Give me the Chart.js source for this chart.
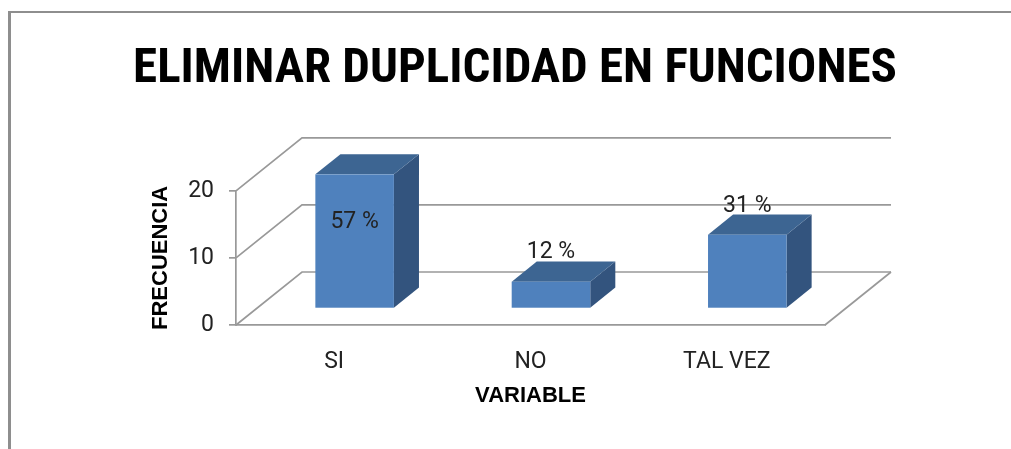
<!DOCTYPE html>
<html>
<head>
<meta charset="utf-8">
<script src="https://cdn.jsdelivr.net/npm/chart.js@4/dist/chart.umd.min.js"></script>
<style>
    body { margin: 0; background: #fff; overflow: hidden; }
    .marco {
        position: absolute; left: 8px; top: 11px; right: 0; bottom: 0;
        border-top: 2px solid #8e8e8e; border-left: 3px solid #8e8e8e;
    }
    #grafico { position: absolute; left: 0; top: 0; }
</style>
</head>
<body>
<div class="marco"></div>
<canvas id="grafico" width="1011" height="449"></canvas>
<script>
// datos del grafico
const categorias = ['SI', 'NO', 'TAL VEZ'];
const frecuencias = [20, 4, 11];
const porcentajes = ['57 %', '12 %', '31 %'];
const ejeY = { min: 0, max: 20, paso: 10 };

const fuenteTitulo = "'Roboto Condensed', Roboto, sans-serif";
const fuente = "Roboto, 'Liberation Sans', sans-serif";
const fuenteNegrita = "'Liberation Sans', Arial, sans-serif";

// profundidad del efecto 3D (pared del fondo)
const PROF_X = 66;
const PROF_Y = -53;
const FRENTE = 0.31;   // donde empieza la barra
const FONDO = 0.69;    // donde termina la barra

const colorLinea = '#999999';

// pared del fondo y piso
const fondo3D = {
    id: 'fondo3D',
    beforeDatasetsDraw(chart) {
        const ctx = chart.ctx;
        const area = chart.chartArea;
        const y = chart.scales.y;
        ctx.save();
        ctx.strokeStyle = colorLinea;
        ctx.lineWidth = 1.7;
        y.ticks.forEach(t => {
            const py = y.getPixelForValue(t.value);
            ctx.beginPath();
            ctx.moveTo(area.left, py);
            ctx.lineTo(area.left + PROF_X, py + PROF_Y);
            ctx.lineTo(area.right + PROF_X, py + PROF_Y);
            ctx.stroke();
        });
        // borde derecho del piso
        ctx.beginPath();
        ctx.moveTo(area.right, area.bottom);
        ctx.lineTo(area.right + PROF_X, area.bottom + PROF_Y);
        ctx.stroke();
        ctx.restore();
    }
};

// barras en 3D y etiquetas de porcentaje
const barras3D = {
    id: 'barras3D',
    afterDatasetsDraw(chart) {
        const ctx = chart.ctx;
        const area = chart.chartArea;
        const meta = chart.getDatasetMeta(0);
        const fx = FRENTE * PROF_X, fy = FRENTE * PROF_Y;
        const px = (FONDO - FRENTE) * PROF_X, py = (FONDO - FRENTE) * PROF_Y;
        ctx.save();
        meta.data.forEach((barra, i) => {
            const p = barra.getProps(['x', 'y', 'base', 'width'], true);
            const x0 = p.x - p.width / 2 + fx;
            const x1 = x0 + p.width;
            const yt = p.y + fy;
            const yb = p.base + fy;

            // cara lateral
            ctx.fillStyle = '#33547e';
            ctx.beginPath();
            ctx.moveTo(x1, yt);
            ctx.lineTo(x1 + px, yt + py);
            ctx.lineTo(x1 + px, yb + py);
            ctx.lineTo(x1, yb);
            ctx.closePath();
            ctx.fill();

            // cara superior
            ctx.fillStyle = '#3d6592';
            ctx.beginPath();
            ctx.moveTo(x0, yt);
            ctx.lineTo(x1, yt);
            ctx.lineTo(x1 + px, yt + py);
            ctx.lineTo(x0 + px, yt + py);
            ctx.closePath();
            ctx.fill();

            // cara frontal
            ctx.fillStyle = '#4f81bd';
            ctx.fillRect(x0, yt, p.width, yb - yt);

            // etiqueta
            let ly = yt - 29;
            if (ly < area.top) ly = yt + 48;
            ctx.fillStyle = '#222';
            ctx.font = '23px ' + fuente;
            ctx.textAlign = 'center';
            ctx.textBaseline = 'middle';
            ctx.fillText(porcentajes[i], (x0 + x1) / 2, ly);
        });
        ctx.restore();
    }
};

const grafico = new Chart(document.getElementById('grafico'), {
    type: 'bar',
    data: {
        labels: categorias,
        datasets: [{
            label: 'Frecuencia',
            data: frecuencias,
            backgroundColor: 'rgba(0,0,0,0)',
            borderWidth: 0,
            barPercentage: 0.4,
            categoryPercentage: 1
        }]
    },
    options: {
        responsive: false,
        animation: false,
        devicePixelRatio: 1,
        layout: { padding: { left: 19, right: 0, top: 0, bottom: 0 } },
        plugins: {
            legend: { display: false },
            tooltip: { enabled: false },
            title: {
                display: true,
                text: 'ELIMINAR DUPLICIDAD EN FUNCIONES',
                color: '#000',
                font: { family: fuenteTitulo, size: 49, weight: 'bold' },
                padding: { top: 40, bottom: 92 }
            }
        },
        scales: {
            x: {
                grid: { display: false, drawTicks: false },
                border: { display: true, color: colorLinea, width: 1.7 },
                ticks: { color: '#222', font: { family: fuente, size: 23 }, padding: 23 },
                title: {
                    display: true,
                    text: 'VARIABLE',
                    color: '#000',
                    font: { family: fuenteNegrita, size: 22, weight: 'bold' },
                    padding: { top: 0, bottom: 40 }
                },
                afterFit: s => { s.height = 124; }
            },
            y: {
                min: ejeY.min,
                max: ejeY.max,
                grid: { drawOnChartArea: false, drawTicks: true, tickLength: 7, color: colorLinea, lineWidth: 1.7 },
                border: { display: true, color: colorLinea, width: 1.7 },
                ticks: { stepSize: ejeY.paso, color: '#222', font: { family: fuente, size: 23 }, padding: 15 },
                title: {
                    display: true,
                    text: 'FRECUENCIA',
                    color: '#000',
                    font: { family: fuenteNegrita, size: 22, weight: 'bold' },
                    padding: { top: 129, bottom: 0 }
                },
                afterFit: s => { s.width = 217; }
            },
            // eje vacio a la derecha para dejar espacio a la pared del fondo
            derecha: {
                type: 'linear',
                position: 'right',
                grid: { display: false, drawTicks: false },
                border: { display: false },
                ticks: { display: false },
                afterFit: s => { s.width = 186; }
            }
        }
    },
    plugins: [fondo3D, barras3D]
});
</script>
</body>
</html>
